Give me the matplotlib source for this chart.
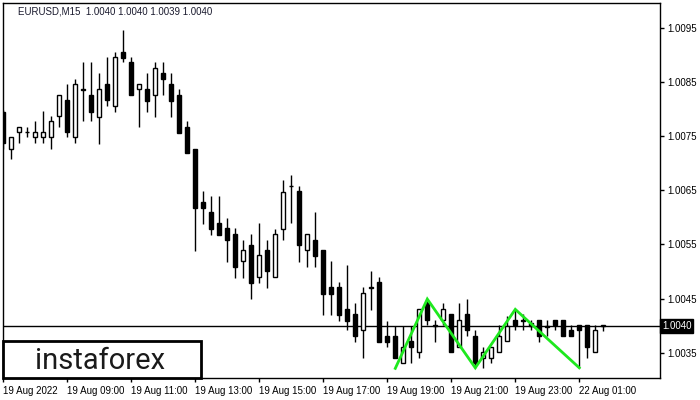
import matplotlib
matplotlib.use("Agg")
import matplotlib.pyplot as plt
from matplotlib.patches import Rectangle

# ---- data (EURUSD M15, 19 Aug 2022 07:00 .. 22 Aug 01:45) ----
opens = [1.00795, 1.00727, 1.00757, 1.00757, 1.00748, 1.00748, 1.00748, 1.00787, 1.00816, 1.00748,
         1.00837, 1.00825, 1.00786, 1.00846, 1.00806, 1.00905, 1.00887, 1.00837, 1.00837, 1.00825,
         1.00866, 1.00846, 1.00825, 1.00766, 1.00727, 1.00628, 1.00609, 1.00589, 1.00580, 1.00569,
         1.00519, 1.00548, 1.00489, 1.00539, 1.00489, 1.00579, 1.00658, 1.00648, 1.00539, 1.00559,
         1.00539, 1.00471, 1.00471, 1.00431, 1.00421, 1.00391, 1.00471, 1.00480, 1.00380, 1.00380,
         1.00331, 1.00371, 1.00351, 1.00441, 1.00400, 1.00410, 1.00421, 1.00361, 1.00421, 1.00381,
         1.00341, 1.00341, 1.00351, 1.00371, 1.00410, 1.00410, 1.00405, 1.00410, 1.00400, 1.00410,
         1.00410, 1.00391, 1.00401, 1.00401, 1.00351, 1.00400]
highs = [1.00798, 1.00748, 1.00766, 1.00766, 1.00778, 1.00796, 1.00788, 1.00825, 1.00846, 1.00855,
         1.00887, 1.00887, 1.00867, 1.00896, 1.00905, 1.00946, 1.00896, 1.00846, 1.00866, 1.00887,
         1.00887, 1.00866, 1.00837, 1.00777, 1.00727, 1.00649, 1.00639, 1.00639, 1.00599, 1.00580,
         1.00559, 1.00569, 1.00589, 1.00559, 1.00579, 1.00668, 1.00678, 1.00658, 1.00569, 1.00609,
         1.00539, 1.00519, 1.00480, 1.00511, 1.00442, 1.00471, 1.00500, 1.00489, 1.00409, 1.00400,
         1.00400, 1.00400, 1.00430, 1.00450, 1.00410, 1.00441, 1.00421, 1.00441, 1.00450, 1.00391,
         1.00361, 1.00361, 1.00401, 1.00418, 1.00430, 1.00421, 1.00410, 1.00410, 1.00410, 1.00410,
         1.00410, 1.00401, 1.00401, 1.00401, 1.00401, 1.00400]
lows = [1.00727, 1.00707, 1.00737, 1.00748, 1.00737, 1.00737, 1.00727, 1.00766, 1.00748, 1.00737,
        1.00777, 1.00777, 1.00736, 1.00806, 1.00795, 1.00886, 1.00825, 1.00766, 1.00795, 1.00786,
        1.00825, 1.00786, 1.00756, 1.00718, 1.00538, 1.00588, 1.00568, 1.00568, 1.00518, 1.00488,
        1.00488, 1.00450, 1.00479, 1.00470, 1.00489, 1.00559, 1.00589, 1.00518, 1.00509, 1.00509,
        1.00420, 1.00420, 1.00409, 1.00391, 1.00370, 1.00341, 1.00429, 1.00370, 1.00361, 1.00341,
        1.00331, 1.00331, 1.00341, 1.00401, 1.00370, 1.00401, 1.00351, 1.00361, 1.00381, 1.00321,
        1.00321, 1.00331, 1.00351, 1.00371, 1.00391, 1.00391, 1.00391, 1.00370, 1.00381, 1.00391,
        1.00381, 1.00381, 1.00321, 1.00341, 1.00351, 1.00390]
closes = [1.00737, 1.00748, 1.00766, 1.00758, 1.00757, 1.00757, 1.00777, 1.00825, 1.00757, 1.00846,
          1.00836, 1.00795, 1.00837, 1.00816, 1.00896, 1.00895, 1.00825, 1.00846, 1.00815, 1.00875,
          1.00855, 1.00815, 1.00756, 1.00718, 1.00618, 1.00618, 1.00579, 1.00568, 1.00559, 1.00509,
          1.00539, 1.00479, 1.00530, 1.00500, 1.00569, 1.00647, 1.00657, 1.00548, 1.00569, 1.00529,
          1.00459, 1.00459, 1.00420, 1.00409, 1.00380, 1.00460, 1.00470, 1.00370, 1.00370, 1.00341,
          1.00361, 1.00361, 1.00430, 1.00410, 1.00400, 1.00430, 1.00351, 1.00410, 1.00391, 1.00331,
          1.00351, 1.00361, 1.00381, 1.00400, 1.00401, 1.00409, 1.00400, 1.00381, 1.00398, 1.00401,
          1.00381, 1.00381, 1.00391, 1.00361, 1.00391, 1.00400]

tick_labels = ["19 Aug 2022", "19 Aug 09:00", "19 Aug 11:00", "19 Aug 13:00", "19 Aug 15:00",
               "19 Aug 17:00", "19 Aug 19:00", "19 Aug 21:00", "19 Aug 23:00", "22 Aug 01:00"]
tick_bars = [0, 8, 16, 24, 32, 40, 48, 56, 64, 72]
price_ticks = [1.0035, 1.0045, 1.0055, 1.0065, 1.0075, 1.0085, 1.0095]

pattern_bars = [49, 53, 59, 64, 72]
pattern_prices = [1.00321, 1.00449, 1.00322, 1.00430, 1.00322]

current_price = 1.0040
title = "EURUSD,M15  1.0040 1.0040 1.0039 1.0040"

# ---- figure ----
W, H = 700, 400
fig = plt.figure(figsize=(7, 4), dpi=100)
fig.patch.set_facecolor("white")
ax = fig.add_axes([3 / W, (H - 378) / H, (660 - 3) / W, (378 - 3) / H])
ax.set_facecolor("white")

font = "Liberation Sans"

n = len(opens)
xs = list(range(n))
ax.vlines(xs, lows, highs, color="black", linewidth=1.0, zorder=2)
bottoms = [min(o, c) for o, c in zip(opens, closes)]
heights = [max(abs(c - o), 0.000004) for o, c in zip(opens, closes)]
colors = ["white" if c >= o else "black" for o, c in zip(opens, closes)]
ax.bar(xs, heights, bottom=bottoms, width=0.5, color=colors, edgecolor="black",
       linewidth=1.0, zorder=3)

ax.axhline(current_price, color="black", linewidth=1.0, zorder=1)
ax.plot(pattern_bars, pattern_prices, color="#1ee81e", linewidth=2.0, zorder=4,
        solid_joinstyle="miter")

ax.set_xlim(-0.04, 82.09)
ax.set_ylim(1.003032, 1.009958)

ax.set_xticks(tick_bars)
ax.set_xticklabels(tick_labels, ha="left", fontsize=7, family=font)
ax.yaxis.tick_right()
ax.set_yticks(price_ticks)
ax.set_yticklabels([f"{p:.4f}" for p in price_ticks], fontsize=7, family=font)
ax.tick_params(axis="both", direction="out", length=3, width=1, color="black", pad=2)
ax.tick_params(axis="x", pad=3)
for s in ax.spines.values():
    s.set_color("black")
    s.set_linewidth(1.0)

ax.text(1.003, current_price, "1.0040", transform=ax.get_yaxis_transform(),
        ha="left", va="center", fontsize=7, family=font, color="white",
        bbox=dict(boxstyle="square,pad=0.2", facecolor="black", edgecolor="black"),
        clip_on=False, zorder=10)

fig.text(18 / W, 1 - 11 / H, title, ha="left", va="center", fontsize=7,
         family=font, color="#1a1a2e")

# logo box
fig.patches.append(Rectangle((3 / W, (H - 378) / H), 198 / W, 37 / H,
                             transform=fig.transFigure, facecolor="white",
                             edgecolor="black", linewidth=2.0, zorder=20))
fig.text(100 / W, 1 - 361 / H, "instaforex", ha="center", va="center",
         fontsize=21, family="Roboto", color="#1a1a1a", zorder=21)

fig.savefig("out.png", dpi=100, facecolor="white")
